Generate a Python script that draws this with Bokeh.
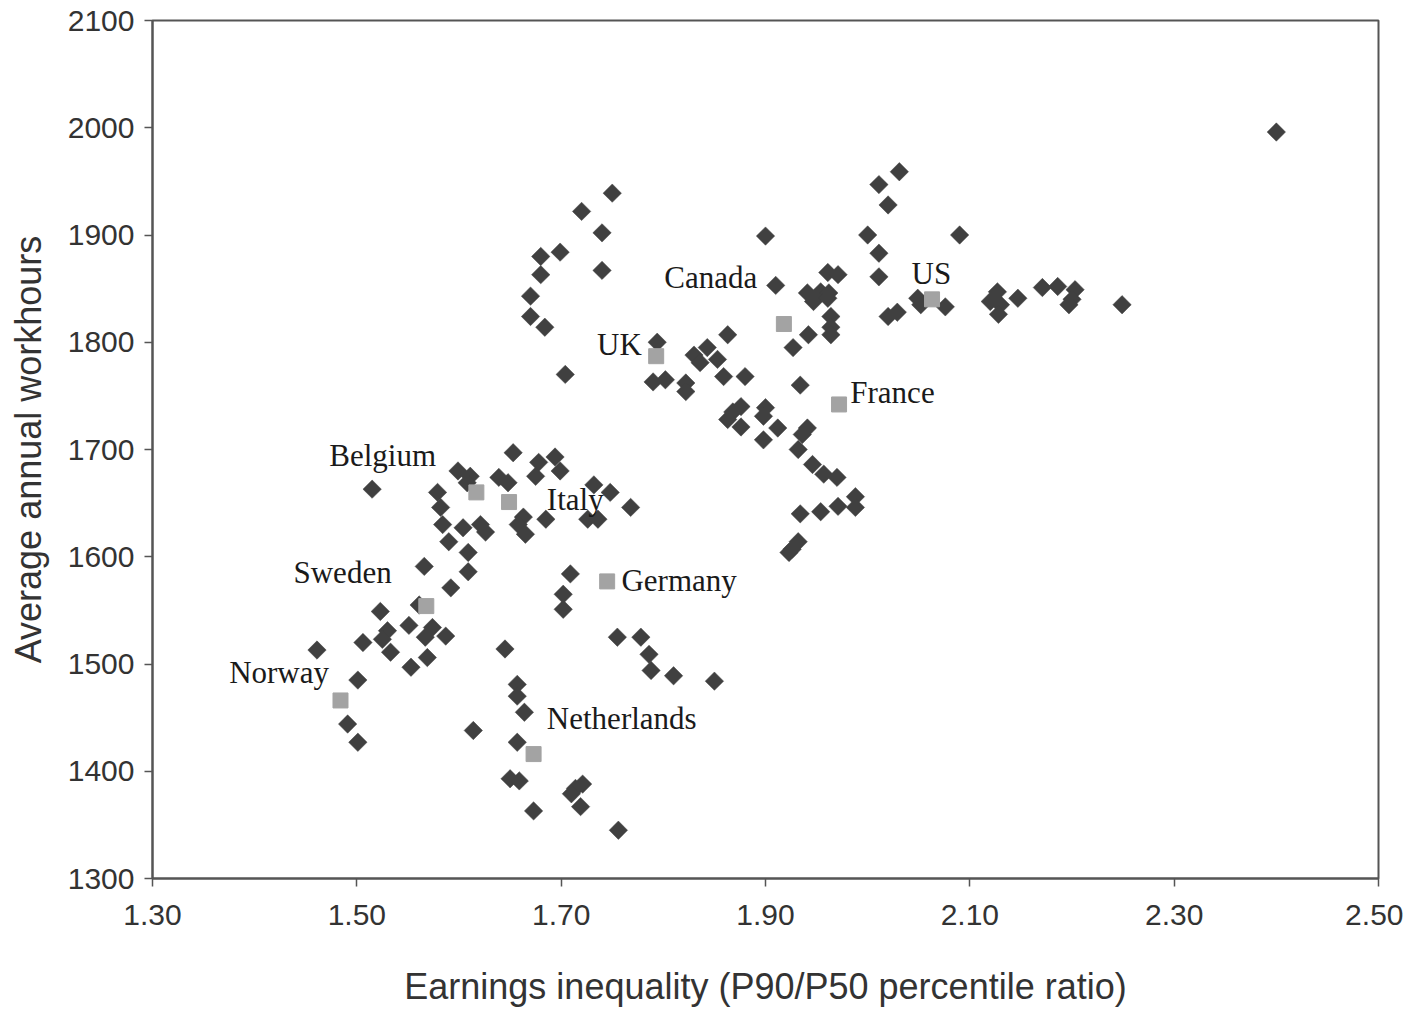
import numpy as np
from bokeh.plotting import figure
from bokeh.models import Range1d, FixedTicker, NumeralTickFormatter, ColumnDataSource
from bokeh.core.properties import value
from bokeh.embed import file_html
from bokeh.resources import INLINE

# Country-year observations (earnings inequality, annual workhours)
obs_ratio = [
    1.750, 1.720, 1.740, 1.699, 1.680, 1.740, 1.680, 1.670, 1.670, 1.684, 1.704,
    1.900, 1.910, 1.961, 1.971, 1.941, 1.954, 1.962, 1.947, 1.961, 1.964, 1.964,
    1.964, 1.942, 1.927, 1.794, 1.863, 1.830, 1.843, 1.853, 1.836, 1.790, 1.802,
    1.822, 1.822, 1.859, 1.880, 1.934, 1.868, 1.876, 1.863, 1.876, 1.900, 1.898,
    1.912, 1.898, 1.941, 1.936, 1.932, 1.946, 1.957, 1.970, 1.988, 1.988, 1.971,
    1.954, 1.934, 1.932, 1.926, 1.923,
    2.031, 2.011, 2.020, 2.000, 2.090, 2.011, 2.011, 2.020, 2.029, 2.049, 2.052,
    2.076, 2.127, 2.120, 2.130, 2.128, 2.147, 2.171, 2.186, 2.203, 2.200, 2.197,
    2.249, 2.400,
    1.653, 1.599, 1.611, 1.608, 1.639, 1.648, 1.678, 1.694, 1.699, 1.675, 1.515,
    1.579, 1.582, 1.584, 1.590, 1.604, 1.621, 1.626, 1.609, 1.663, 1.658, 1.665,
    1.685, 1.732, 1.748, 1.768, 1.726, 1.736,
    1.566, 1.609, 1.592, 1.561, 1.523, 1.551, 1.530, 1.525, 1.506, 1.533, 1.574,
    1.567, 1.587, 1.569, 1.553, 1.461, 1.501, 1.491, 1.501, 1.614,
    1.709, 1.702, 1.702, 1.755, 1.778, 1.786, 1.788, 1.810, 1.850, 1.645, 1.657,
    1.657, 1.664, 1.657, 1.650, 1.659, 1.673, 1.721, 1.714, 1.710, 1.719, 1.756,
]
obs_hours = [
    1939, 1922, 1902, 1884, 1880, 1867, 1863, 1843, 1824, 1814, 1770,
    1899, 1853, 1865, 1863, 1846, 1847, 1846, 1838, 1841, 1824, 1814,
    1807, 1807, 1795, 1800, 1807, 1788, 1795, 1784, 1781, 1763, 1765,
    1762, 1754, 1768, 1768, 1760, 1735, 1740, 1728, 1721, 1739, 1731,
    1720, 1709, 1720, 1714, 1700, 1686, 1677, 1674, 1656, 1646, 1647,
    1642, 1640, 1614, 1607, 1604,
    1959, 1947, 1928, 1900, 1900, 1883, 1861, 1824, 1828, 1841, 1835,
    1833, 1847, 1838, 1835, 1826, 1841, 1851, 1852, 1849, 1840, 1835,
    1835, 1996,
    1697, 1680, 1675, 1669, 1674, 1669, 1688, 1693, 1680, 1675, 1663,
    1660, 1646, 1630, 1614, 1627, 1630, 1623, 1604, 1637, 1630, 1621,
    1635, 1667, 1660, 1646, 1635, 1635,
    1591, 1586, 1571, 1555, 1549, 1536, 1531, 1523, 1520, 1511, 1534,
    1525, 1526, 1506, 1497, 1513, 1485, 1444, 1427, 1438,
    1584, 1565, 1551, 1525, 1525, 1509, 1494, 1489, 1484, 1514, 1481,
    1470, 1455, 1427, 1393, 1391, 1363, 1388, 1384, 1379, 1367, 1345,
]

# Country averages (grey squares)
countries = ["Canada", "UK", "US", "France", "Belgium", "Italy", "Germany",
             "Sweden", "Norway", "Netherlands"]
avg_ratio = [1.918, 1.793, 2.063, 1.972, 1.617, 1.649, 1.745, 1.568, 1.484, 1.673]
avg_hours = [1817, 1787, 1840, 1742, 1660, 1651, 1577, 1554, 1466, 1416]

# Country label anchors (data units)
label_x = [1.892, 1.779, 2.043, 1.983, 1.473, 1.686, 1.759, 1.438, 1.375, 1.686]
label_y = [1860, 1798, 1864, 1753, 1694, 1653, 1578, 1585, 1492, 1449]
label_align = ["right", "right", "left", "left", "left", "left", "left", "left", "left", "left"]

x_ticks = [1.30, 1.50, 1.70, 1.90, 2.10, 2.30, 2.50]
y_ticks = [1300, 1400, 1500, 1600, 1700, 1800, 1900, 2000, 2100]

p = figure(frame_width=1226, frame_height=858, output_backend="svg", toolbar_location=None,
           x_range=Range1d(1.30, 2.50), y_range=Range1d(1300, 2100),
           min_border_left=152, min_border_top=20, min_border_right=25, min_border_bottom=10)

p.grid.visible = False
p.outline_line_color = "#555555"
p.outline_line_width = 2
p.background_fill_color = "white"
p.border_fill_color = "white"

p.xaxis.ticker = FixedTicker(ticks=x_ticks)
p.yaxis.ticker = FixedTicker(ticks=y_ticks)
p.xaxis.formatter = NumeralTickFormatter(format="0.00")
p.yaxis.formatter = NumeralTickFormatter(format="0")

for ax in (p.xaxis, p.yaxis):
    ax.axis_line_color = "#555555"
    ax.axis_line_width = 2
    ax.major_tick_line_color = "#555555"
    ax.major_tick_line_width = 1.5
    ax.major_tick_out = 8
    ax.major_tick_in = 0
    ax.minor_tick_line_color = None
    ax.major_label_text_font = "Liberation Sans"
    ax.major_label_text_font_size = "30px"
    ax.major_label_text_color = "#333333"
    ax.axis_label_text_font = "Liberation Sans"
    ax.axis_label_text_font_size = "36px"
    ax.axis_label_text_font_style = "normal"
    ax.axis_label_text_color = "#333333"

p.xaxis.axis_label = "Earnings inequality (P90/P50 percentile ratio)"
p.yaxis.axis_label = "Average annual workhours"
p.xaxis.major_label_standoff = 18
p.yaxis.major_label_standoff = 10
p.xaxis.axis_label_standoff = 38
p.yaxis.axis_label_standoff = 16

obs = ColumnDataSource(dict(x=obs_ratio, y=obs_hours))
p.scatter("x", "y", source=obs, marker="square", size=13, angle=np.pi / 4,
          fill_color="#404040", line_color="#404040", line_width=0.5)

avg = ColumnDataSource(dict(x=avg_ratio, y=avg_hours, name=countries))
p.scatter("x", "y", source=avg, marker="square", size=15,
          fill_color="#a3a3a3", line_color="#a3a3a3")

lab = ColumnDataSource(dict(x=label_x, y=label_y, text=countries, align=label_align))
p.text("x", "y", text="text", source=lab, text_align="align", text_baseline="middle",
       text_font=value("Liberation Serif"), text_font_size="31px", text_color="#1a1a1a")

open("out.html", "w").write(file_html(p, INLINE))
